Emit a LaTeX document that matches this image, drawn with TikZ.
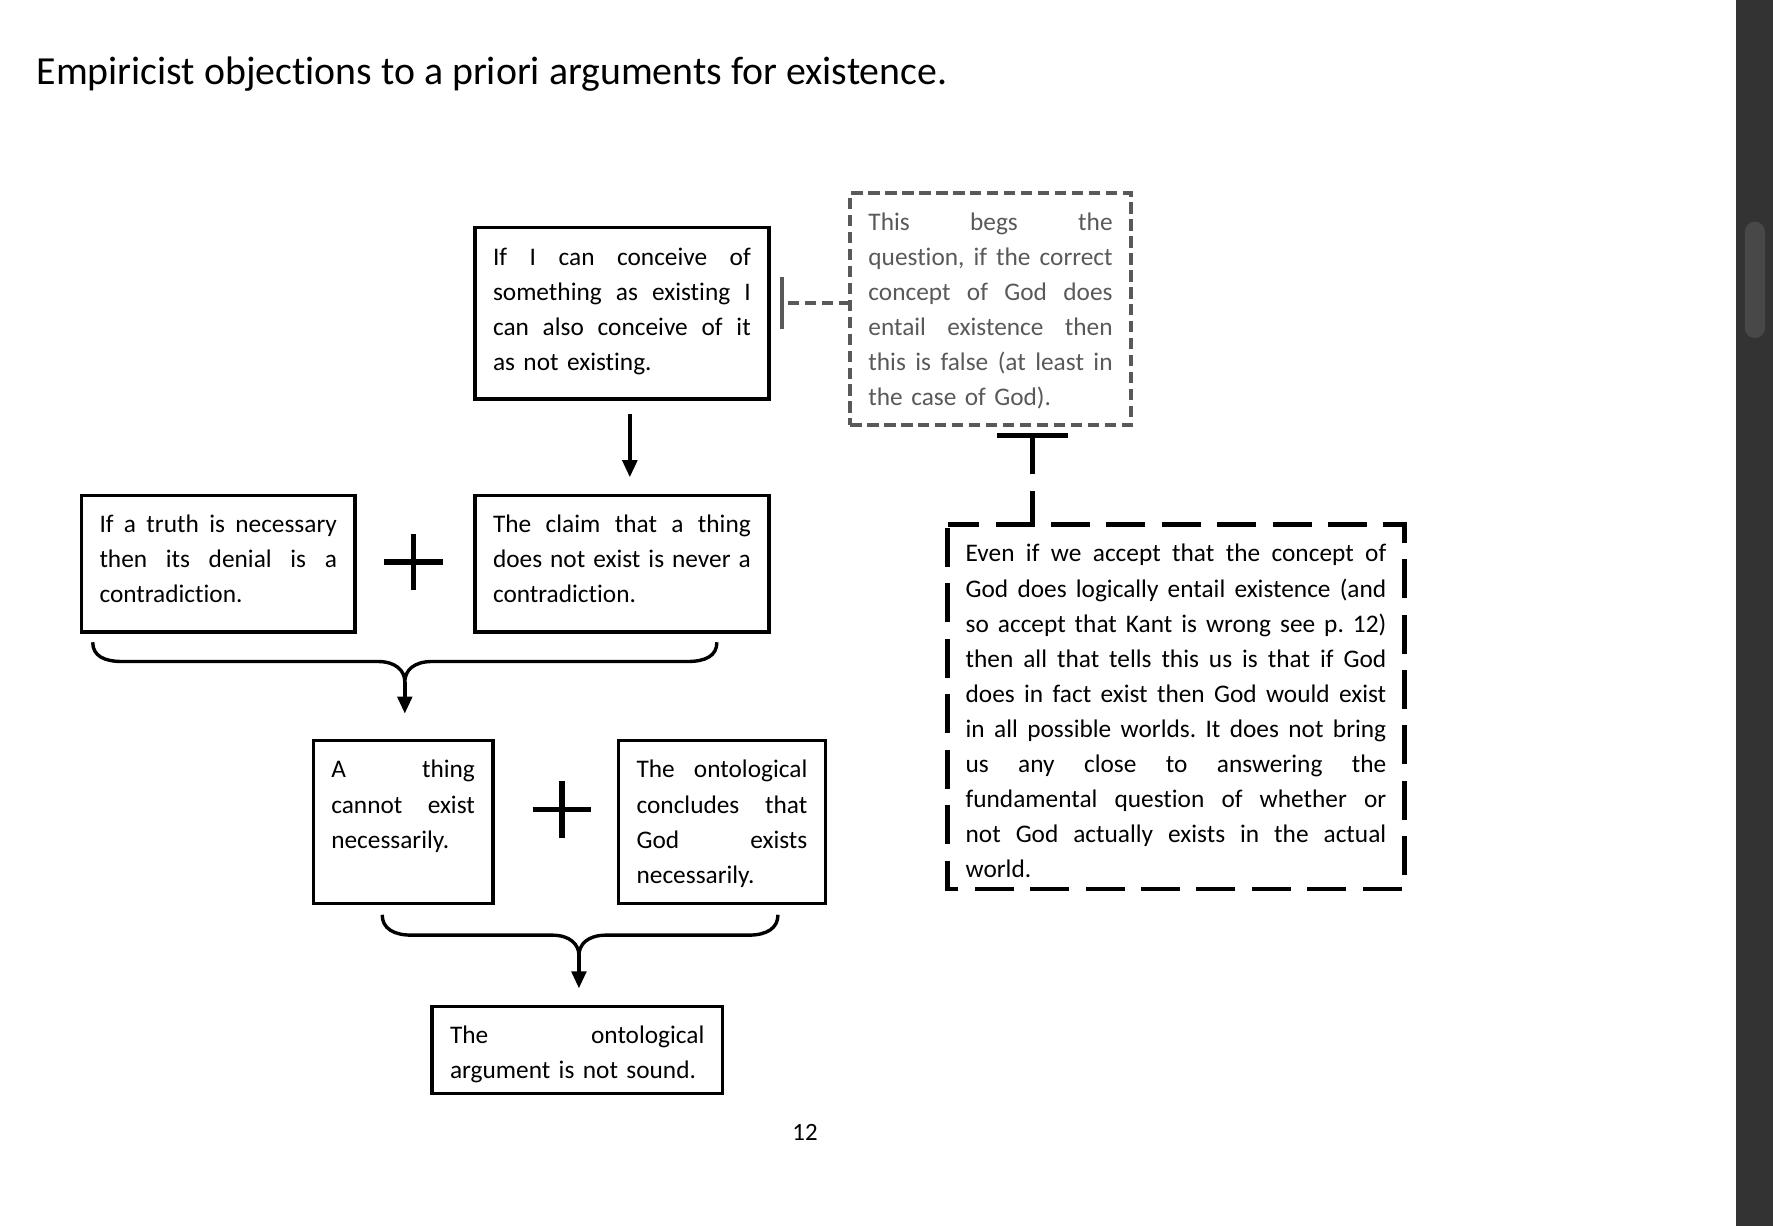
\documentclass[tikz,border=0pt]{standalone}
\usepackage{fontspec}
\setmainfont{Carlito}[Ligatures={NoCommon}]
\usetikzlibrary{arrows.meta}
\definecolor{grayline}{HTML}{595959}
\definecolor{sbar}{HTML}{333333}
\definecolor{sthumb}{HTML}{484848}
\def\curw{100pt}
\newcommand\J[1]{{\spaceskip=0.226em plus 1fil\relax\makebox[\curw][s]{#1}}}
\newcommand\bodyfont{\fontsize{11.2}{15.5}\selectfont\frenchspacing}
\begin{document}
\begin{tikzpicture}[x=0.5pt,y=-0.5pt,
  box/.style={draw, line width=1.5pt, inner xsep=8pt, inner ysep=0pt, outer sep=0pt,
    anchor=north west, font=\bodyfont, text height=16.5pt},
  tw/.style={text width=#1, execute at begin node={\def\curw{#1}}},
  graybox/.style={box, draw=grayline, text=grayline, dash pattern=on 5pt off 2.5pt, line width=1.75pt},
  hdash/.style={line width=2pt, dash pattern=on 17.25pt off 7.25pt},
  arr/.style={line width=1.5pt, -{Triangle[width=6.5pt,length=7.5pt]}},
  bracestyle/.style={line width=1.5pt, line join=round},
  plusline/.style={line width=2.25pt},
]
\useasboundingbox (0,0) rectangle (1568,1084);
% scrollbar
\fill[sbar] (1535,0) rectangle (1568,1084);
\fill[sthumb, rounded corners=4.5pt] (1543,196) rectangle (1561,299);

% title and page number
\node[anchor=base west, font=\fontsize{17.6}{20}\selectfont, inner sep=0pt] (title) at (32,75)
  {Empiricist objections to a priori arguments for existence.};
\node[anchor=base, font=\fontsize{11}{13}\selectfont, inner sep=0pt] (page) at (712,1009) {12};

% boxes
\node[box, tw=114pt, text height=17pt, text depth=59pt] (A) at (420,201)
  {\J{If I can conceive of}\\\J{something as existing I}\\\J{can also conceive of it}\\as not existing.};
\node[graybox, tw=108pt, text depth=86pt] (B) at (752,171)
  {\J{This begs the}\\\J{question, if the correct}\\\J{concept of God does}\\\J{entail existence then}\\\J{this is false (at least in}\\the case of God).};
\node[box, tw=105pt, text depth=44pt] (C) at (72,438)
  {\J{If a truth is necessary}\\\J{then its denial is a}\\contradiction.};
\node[box, tw=114pt, text depth=44pt] (D) at (420,438)
  {\J{The claim that a thing}\\\J{does not exist is never a}\\contradiction.};
\node[box, tw=63.5pt, text depth=55.5pt] (E) at (277,655)
  {\J{A thing}\\\J{cannot exist}\\necessarily.};
\node[box, tw=75.5pt, text depth=55.5pt] (F) at (547,655)
  {\J{The ontological}\\\J{concludes that}\\\J{God exists}\\necessarily.};
\node[box, tw=112.5pt, text depth=22pt] (G) at (382,890)
  {\J{The ontological}\\argument is not sound.};
\node[box, draw=none, tw=186pt, text depth=144.5pt] (H) at (838,464)
  {\J{Even if we accept that the concept of}\\\J{God does logically entail existence (and}\\\J{so accept that Kant is wrong see p. 12)}\\\J{then all that tells this us is that if God}\\\J{does in fact exist then God would exist}\\\J{in all possible worlds. It does not bring}\\\J{us any close to answering the}\\\J{fundamental question of whether or}\\\J{not God actually exists in the actual}\\world.};
\draw[hdash, dash phase=3.25pt] (H.north west) -- (H.north east) -- (H.south east) -- (H.south west) -- cycle;

% plus signs
\coordinate (plus1) at (366,497);
\coordinate (plus2) at (497,716);
\foreach \p in {plus1,plus2}{
  \draw[plusline] ([xshift=-13pt]\p) -- ([xshift=13pt]\p);
  \draw[plusline] ([yshift=-12.5pt]\p) -- ([yshift=12.5pt]\p);
}

% A -> D
\draw[arr, shorten <=6.5pt, shorten >=8pt] ([xshift=3.5pt]A.south) -- ([xshift=3.5pt]D.north);

% B -| A (tee)
\coordinate (tA) at (690,268);
\draw[grayline, line width=1.75pt, dash pattern=on 5pt off 2.5pt, -{Bar[width=23pt]}] (B.west |- tA) -- (tA);

% H -| B (tee)
\coordinate (tB) at (913,383);
\draw[hdash, dash phase=2.25pt, -{Bar[width=31.5pt]}] (H.north west -| tB) -- (tB);

% brace 1 (C + D -> E)
\coordinate (c1) at (358,603);
\draw[bracestyle] (82,568) .. controls (82,580) and (92,585) .. (108,585) -- (334,585)
  .. controls (350,585) and (358,593) .. (c1)
  .. controls (358,593) and (366,585) .. (382,585) -- (608,585)
  .. controls (624,585) and (634,580) .. (634,568);
\draw[arr, shorten >=12pt] (c1) -- (c1 |- E.north);

% brace 2 (E + F -> G)
\coordinate (c2) at (512,845);
\draw[bracestyle] (338,809) .. controls (338,821) and (348,827) .. (364,827) -- (488,827)
  .. controls (504,827) and (512,835) .. (c2)
  .. controls (512,835) and (520,827) .. (536,827) -- (662,827)
  .. controls (678,827) and (688,821) .. (688,809);
\draw[arr, shorten >=8pt] (c2) -- (c2 |- G.north);
\end{tikzpicture}
\end{document}
